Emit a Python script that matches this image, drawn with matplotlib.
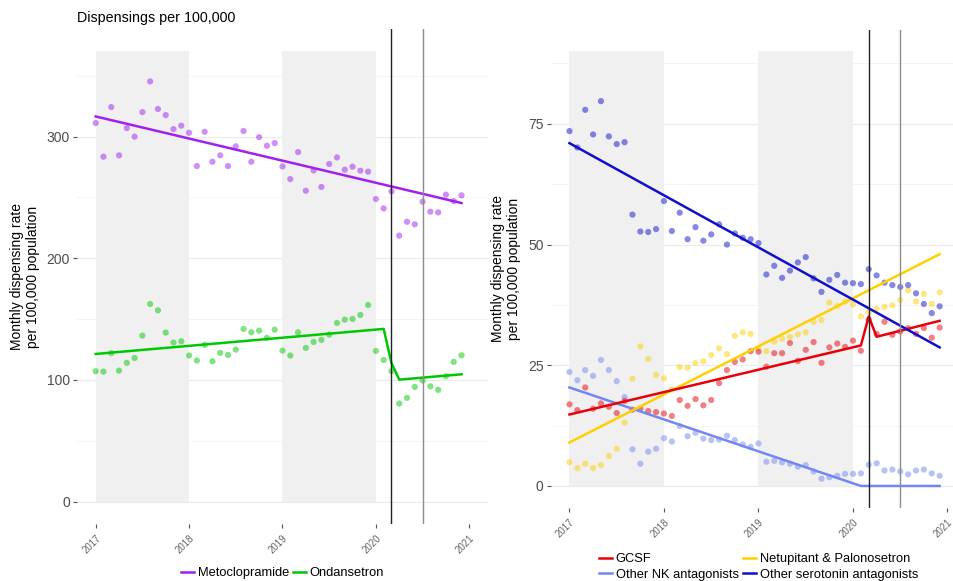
import numpy as np
import matplotlib.pyplot as plt

plt.rcParams["font.family"] = ["Liberation Sans", "DejaVu Sans"]

# monthly points, Jan 2017 .. Dec 2020
months = 2017 + np.arange(48) / 12
year_ticks = [2017, 2018, 2019, 2020, 2021]
shaded_years = [(2017, 2018), (2019, 2020)]
event_dates = [2020 + 2 / 12, 2020 + 6 / 12]  # March 2020, July 2020

# left panel
metoclopramide = [
    311.2, 283.5, 324.3, 284.6, 307.0, 300.0, 320.2, 345.4, 322.7, 317.7, 306.2, 309.0,
    303.2, 275.8, 304.0, 279.4, 284.6, 275.8, 292.0, 304.6, 279.4, 299.6, 292.5, 294.7,
    275.5, 265.1, 287.3, 255.5, 272.2, 258.6, 277.5, 282.9, 272.8, 275.3, 272.0, 271.2,
    248.7, 241.0, 255.0, 218.6, 230.0, 227.9, 246.5, 238.3, 237.7, 252.3, 247.0, 251.7,
]
ondansetron = [
    107.1, 106.8, 122.0, 107.6, 114.0, 118.0, 136.4, 162.4, 157.2, 138.9, 130.7, 131.7,
    120.0, 115.9, 128.8, 115.3, 122.2, 120.5, 124.9, 141.9, 139.1, 140.5, 134.5, 141.3,
    124.1, 120.0, 139.1, 126.3, 131.2, 132.9, 137.2, 146.8, 149.5, 150.1, 153.4, 161.6,
    123.8, 116.4, 107.1, 80.5, 85.2, 94.2, 99.4, 94.7, 91.8, 103.0, 114.8, 120.2,
]
# fitted lines: (month index, value) at the break points
metoclopramide_fit_idx = [0, 47]
metoclopramide_fit = [316.6, 245.4]
ondansetron_fit_idx = [0, 37, 38, 39, 47]
ondansetron_fit = [121.3, 141.9, 113.9, 100.2, 104.6]

# right panel
gcsf = [
    16.9, 15.7, 20.4, 16.0, 17.1, 16.4, 15.1, 17.6, 15.8, 16.0, 15.5, 15.3,
    15.0, 14.5, 17.8, 16.6, 18.0, 16.7, 17.8, 21.3, 24.0, 25.7, 26.2, 27.9,
    27.8, 24.7, 27.5, 27.5, 29.6, 25.9, 28.2, 29.8, 25.5, 28.7, 29.5, 28.8,
    30.1, 28.0, 34.5, 31.5, 34.0, 31.3, 32.0, 32.7, 31.5, 32.7, 30.7, 32.8,
]
netupitant = [
    4.9, 3.7, 4.6, 3.7, 4.3, 6.2, 7.7, 13.1, 22.2, 28.9, 26.3, 23.0,
    22.3, 20.0, 24.6, 24.5, 25.5, 25.8, 27.1, 28.5, 27.3, 31.1, 31.8, 31.5,
    28.5, 27.9, 29.9, 30.5, 30.9, 31.4, 31.8, 34.0, 34.4, 38.0, 37.3, 38.2,
    37.6, 35.1, 36.0, 36.7, 37.1, 37.4, 38.5, 40.5, 38.2, 39.8, 37.7, 40.1,
]
other_nk = [
    23.6, 21.9, 24.0, 22.8, 26.1, 24.0, 21.7, 18.4, 7.6, 4.6, 7.1, 7.7,
    9.9, 9.2, 12.4, 10.3, 11.0, 9.8, 9.5, 9.6, 10.4, 9.5, 8.6, 8.1,
    8.8, 5.0, 5.2, 4.9, 4.6, 4.0, 4.3, 3.0, 1.5, 1.8, 2.1, 2.5,
    2.5, 2.6, 4.4, 4.7, 3.2, 3.4, 3.0, 2.4, 3.2, 3.4, 2.6, 2.1,
]
other_serotonin = [
    73.5, 70.1, 77.9, 72.8, 79.7, 72.4, 70.8, 71.2, 56.2, 52.7, 52.6, 53.2,
    59.0, 52.8, 56.6, 51.1, 53.6, 50.8, 52.1, 54.2, 50.0, 52.3, 51.4, 51.1,
    50.3, 43.8, 45.6, 43.1, 44.6, 46.3, 47.4, 43.0, 40.2, 42.7, 43.7, 42.1,
    42.0, 41.8, 44.9, 43.6, 42.1, 41.6, 41.2, 41.6, 39.9, 37.7, 35.8, 37.2,
]
gcsf_fit_idx = [0, 37, 38, 39, 47]
gcsf_fit = [14.8, 29.1, 35.1, 30.9, 34.2]
netupitant_fit_idx = [0, 47]
netupitant_fit = [9.0, 48.0]
other_nk_fit_idx = [0, 37, 47]
other_nk_fit = [20.4, 0.0, 0.0]
other_serotonin_fit_idx = [0, 47]
other_serotonin_fit = [71.0, 28.7]


def draw_series(ax, values, fit_idx, fit, color, label):
    ax.scatter(months, values, s=20, color=color, alpha=0.5, edgecolors="none", zorder=3)
    line, = ax.plot(months[fit_idx], fit, color=color, lw=1.8, label=label, zorder=4)
    return line


def style_panel(ax, band_top, ylim, major, minor):
    for start, end in shaded_years:
        ax.fill_between([start, end], 0, band_top, color="#F0F0F0", lw=0, zorder=1)
    ax.axvline(event_dates[0], color="#222222", lw=1.0, zorder=5)
    ax.axvline(event_dates[1], color="#8C8C8C", lw=1.0, zorder=5)

    ax.set_xlim(2016.8, 2021.2)
    ax.set_ylim(*ylim)
    ax.set_xticks(year_ticks)
    ax.set_yticks(major)
    ax.set_yticks(minor, minor=True)
    ax.grid(axis="y", which="major", color="#EBEBEB", lw=0.9)
    ax.grid(axis="y", which="minor", color="#F2F2F2", lw=0.6)
    ax.set_axisbelow(True)
    for s in ax.spines.values():
        s.set_visible(False)
    ax.tick_params(axis="y", which="major", length=3, color="#555555",
                   labelsize=10, labelcolor="#4D4D4D", pad=2)
    ax.tick_params(axis="y", which="minor", length=0)
    ax.tick_params(axis="x", length=3, color="#555555", labelsize=7, labelcolor="#666666")
    plt.setp(ax.get_xticklabels(), rotation=45, ha="right", rotation_mode="anchor")
    ax.set_ylabel("Monthly dispensing rate\nper 100,000 population", fontsize=10, labelpad=5)


fig = plt.figure(figsize=(9.54, 5.81), dpi=100)
ax1 = fig.add_axes([0.0807, 0.0981, 0.4308, 0.852])
ax2 = fig.add_axes([0.5771, 0.1262, 0.4359, 0.8227])

style_panel(ax1, 370, (-18.5, 388.5), [0, 100, 200, 300], [50, 150, 250, 350])
h_met = draw_series(ax1, metoclopramide, metoclopramide_fit_idx, metoclopramide_fit,
                    "#A020F0", "Metoclopramide")
h_ond = draw_series(ax1, ondansetron, ondansetron_fit_idx, ondansetron_fit,
                    "#00C800", "Ondansetron")
ax1.set_title("Dispensings per 100,000", loc="left", fontsize=10.3, pad=5)
ax1.legend(handles=[h_met, h_ond], loc="center", bbox_to_anchor=(0.5, -0.099),
           ncol=2, frameon=False, fontsize=9.3, handlelength=1.0,
           handletextpad=0.3, columnspacing=0.3, borderpad=0.2)

style_panel(ax2, 90, (-4.5, 94.5), [0, 25, 50, 75], [12.5, 37.5, 62.5, 87.5])
h_nk = draw_series(ax2, other_nk, other_nk_fit_idx, other_nk_fit,
                   "#7387F2", "Other NK antagonists")
h_net = draw_series(ax2, netupitant, netupitant_fit_idx, netupitant_fit,
                    "#FFD000", "Netupitant & Palonosetron")
h_gcsf = draw_series(ax2, gcsf, gcsf_fit_idx, gcsf_fit, "#E8000B", "GCSF")
h_ser = draw_series(ax2, other_serotonin, other_serotonin_fit_idx, other_serotonin_fit,
                    "#1010CC", "Other serotonin antagonists")
ax2.legend(handles=[h_gcsf, h_nk, h_net, h_ser], loc="center",
           bbox_to_anchor=(0.5, -0.124), ncol=2, frameon=False, fontsize=9.3,
           handlelength=1.0, handletextpad=0.3, columnspacing=0.3,
           labelspacing=0.25)

fig.savefig("out.png", dpi=100)
